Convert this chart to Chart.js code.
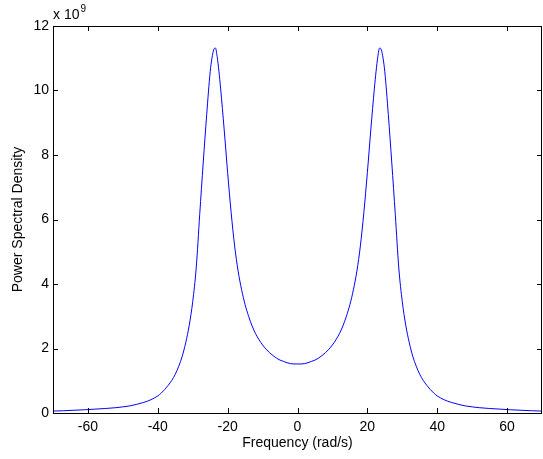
<!DOCTYPE html>
<html>
<head>
<meta charset="utf-8">
<script src="https://cdn.jsdelivr.net/npm/chart.js@4"></script>
<style>
  html, body { margin: 0; padding: 0; background: #fff; }
  canvas { display: block; }
</style>
</head>
<body>
<canvas id="psdChart" width="543" height="459"></canvas>
<script>
// frequency samples (rad/s)
const freq = [
  -70, -67, -64, -61, -58, -55, -52, -50, -48, -46, -44, -42, -40,
  -39, -38, -37, -36, -35, -34, -33, -32, -31, -30, -29, -28, -27, -26,
  -25, -24.5, -24, -23.5, -23, -22.5, -22, -21, -20, -19, -18, -17, -16,
  -15, -14, -13, -12, -11, -10, -9, -8, -7, -6, -5, -4, -3, -2, -1,
  0,
  1, 2, 3, 4, 5, 6, 7, 8, 9, 10, 11, 12, 13, 14, 15, 16, 17, 18, 19, 20,
  21, 22, 22.5, 23, 23.5, 24, 24.5, 25, 26, 27, 28, 29, 30, 31, 32, 33,
  34, 35, 36, 37, 38, 39, 40, 42, 44, 46, 48, 50, 52, 55, 58, 61, 64, 67, 70
];
// power spectral density, in units of 1e9
const psd = [
  0.06, 0.07, 0.085, 0.10, 0.12, 0.14, 0.165, 0.19, 0.22, 0.27, 0.33, 0.41, 0.53,
  0.62, 0.73, 0.86, 1.01, 1.20, 1.45, 1.76, 2.18, 2.72, 3.45, 4.50, 6.15, 7.75, 9.25,
  10.58, 11.00, 11.26, 11.32, 11.05, 10.60, 10.05, 8.80, 7.45, 6.22, 5.18, 4.40, 3.82,
  3.36, 3.00, 2.70, 2.46, 2.27, 2.11, 1.98, 1.87, 1.78, 1.70, 1.64, 1.60, 1.56, 1.53, 1.52,
  1.52,
  1.52, 1.53, 1.56, 1.60, 1.64, 1.70, 1.78, 1.87, 1.98, 2.11, 2.27, 2.46, 2.70, 3.00, 3.36, 3.82, 4.40, 5.18, 6.22, 7.45,
  8.80, 10.05, 10.60, 11.05, 11.32, 11.26, 11.00, 10.58, 9.25, 7.75, 6.15, 4.50, 3.45, 2.72, 2.18, 1.76,
  1.45, 1.20, 1.01, 0.86, 0.73, 0.62, 0.53, 0.41, 0.33, 0.27, 0.22, 0.19, 0.165, 0.14, 0.12, 0.10, 0.085, 0.07, 0.06
];
const xTicks = [-60, -40, -20, 0, 20, 40, 60];
const yTicks = [0, 2, 4, 6, 8, 10, 12];

const fontFamily = '"Liberation Sans", Arial, Helvetica, sans-serif';
const tickFont = { family: fontFamily, size: 14 };

// matlab style box, inward ticks on all four sides, and the exponent note
const boxPlugin = {
  id: 'matlabBox',
  afterDraw(chart) {
    const { ctx, chartArea: a, scales } = chart;
    const len = 5;
    ctx.save();
    ctx.strokeStyle = '#000';
    ctx.lineWidth = 1;
    ctx.beginPath();
    ctx.rect(Math.round(a.left) + 0.5, Math.round(a.top) + 0.5,
      Math.round(a.right - a.left) - 1, Math.round(a.bottom - a.top));
    for (const v of xTicks) {
      const px = Math.round(scales.x.getPixelForValue(v)) + 0.5;
      ctx.moveTo(px, a.bottom); ctx.lineTo(px, a.bottom - len);
      ctx.moveTo(px, a.top); ctx.lineTo(px, a.top + len);
    }
    for (const v of yTicks) {
      const py = Math.round(scales.y.getPixelForValue(v)) + 0.5;
      ctx.moveTo(a.left, py); ctx.lineTo(a.left + len, py);
      ctx.moveTo(a.right, py); ctx.lineTo(a.right - len, py);
    }
    ctx.stroke();

    ctx.fillStyle = '#000';
    ctx.textBaseline = 'alphabetic';
    ctx.textAlign = 'left';
    ctx.font = '14px ' + fontFamily;
    ctx.fillText('x 10', a.left, a.top - 7);
    const w = ctx.measureText('x 10').width;
    ctx.font = '10px ' + fontFamily;
    ctx.fillText('9', a.left + w + 1, a.top - 14.5);
    ctx.restore();
  }
};

const ctx = document.getElementById('psdChart').getContext('2d');
new Chart(ctx, {
  type: 'line',
  data: {
    datasets: [{
      data: freq.map((f, i) => ({ x: f, y: psd[i] })),
      borderColor: '#0000ff',
      borderWidth: 1,
      pointRadius: 0,
      fill: false,
      cubicInterpolationMode: 'monotone'
    }]
  },
  options: {
    responsive: false,
    animation: false,
    layout: { padding: { top: 26, right: 1, left: 0, bottom: 0 } },
    plugins: { legend: { display: false }, tooltip: { enabled: false } },
    scales: {
      x: {
        type: 'linear',
        min: -70,
        max: 70,
        afterBuildTicks: s => { s.ticks = xTicks.map(v => ({ value: v })); },
        afterFit: s => { s.height = 46; },
        grid: { display: false, drawTicks: false },
        border: { display: false },
        ticks: { padding: 6, color: '#000', font: tickFont, maxRotation: 0 },
        title: {
          display: true,
          text: 'Frequency (rad/s)',
          color: '#000',
          font: tickFont,
          padding: { top: 0, bottom: 7 }
        }
      },
      y: {
        type: 'linear',
        min: 0,
        max: 12,
        afterBuildTicks: s => { s.ticks = yTicks.map(v => ({ value: v })); },
        afterFit: s => { s.width = 53; },
        grid: { display: false, drawTicks: false },
        border: { display: false },
        ticks: { padding: 4, color: '#000', font: tickFont },
        title: {
          display: true,
          text: 'Power Spectral Density',
          color: '#000',
          font: tickFont,
          padding: { top: 9.5, bottom: 0 }
        }
      }
    }
  },
  plugins: [boxPlugin]
});
</script>
</body>
</html>
